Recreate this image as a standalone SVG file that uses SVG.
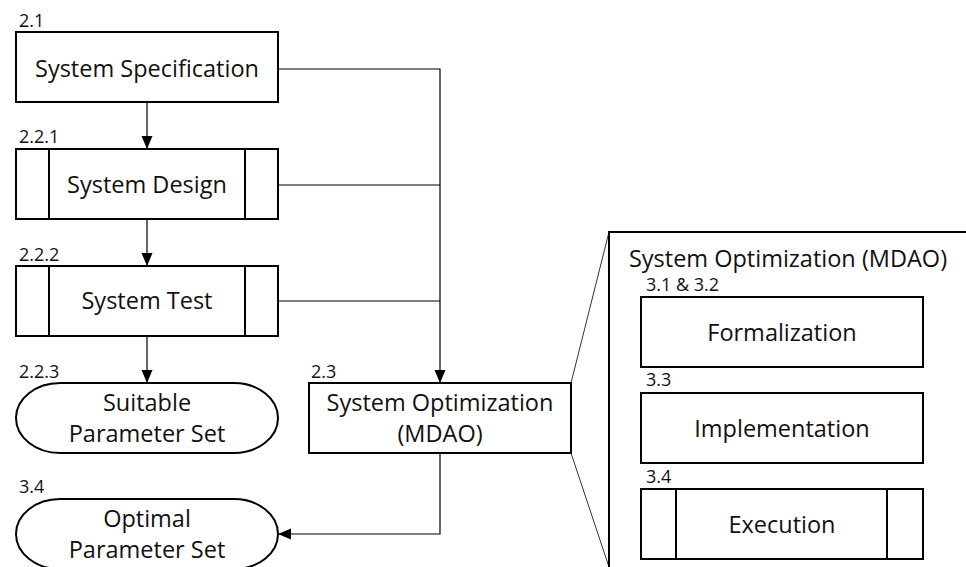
<svg xmlns="http://www.w3.org/2000/svg" width="966" height="567" viewBox="0 0 966 567">
  <style>
    .box { fill: #fff; stroke: #000; stroke-width: 2; }
    .sub { fill: none; stroke: #000; stroke-width: 2; }
    .txt { font-family: "Open Sans", "Liberation Sans", sans-serif; font-size: 23.5px; fill: #111; text-anchor: middle; dominant-baseline: central; }
    .num { font-family: "Open Sans", "Liberation Sans", sans-serif; font-size: 18px; fill: #111; }
    .con { fill: none; stroke: #000; stroke-width: 1.2; }
    .zoom { fill: none; stroke: #333; stroke-width: 1; }
  </style>
  <defs>
    <marker id="arrow" markerUnits="userSpaceOnUse" markerWidth="13" markerHeight="13" viewBox="0 0 13 13" refX="13" refY="6.5" orient="auto">
      <path d="M0,1 L13,6.5 L0,12 Z" fill="#000"/>
    </marker>
  </defs>
  <rect width="966" height="567" fill="#fff"/>

  <!-- connectors -->
  <g id="connectors">
    <line class="con" x1="147" y1="102" x2="147" y2="149" marker-end="url(#arrow)"/>
    <line class="con" x1="147" y1="219" x2="147" y2="266" marker-end="url(#arrow)"/>
    <line class="con" x1="147" y1="336" x2="147" y2="383" marker-end="url(#arrow)"/>
    <polyline class="con" points="278,69 440,69 440,383" marker-end="url(#arrow)"/>
    <line class="con" x1="278" y1="185" x2="440" y2="185"/>
    <line class="con" x1="278" y1="301" x2="440" y2="301"/>
    <polyline class="con" points="440,453 440,534 278,534" marker-end="url(#arrow)"/>
    <line class="con" x1="782" y1="367" x2="782" y2="393" marker-end="url(#arrow)"/>
    <line class="con" x1="782" y1="463" x2="782" y2="489" marker-end="url(#arrow)"/>
    <!-- detail lines from 2.3 to the expanded panel -->
    <line class="zoom" x1="571" y1="383" x2="609" y2="232"/>
    <line class="zoom" x1="571" y1="453" x2="609" y2="567"/>
  </g>

  <g id="n-spec">
    <text class="num" x="19" y="27">2.1</text>
    <rect class="box" x="16" y="32" width="262" height="70"/>
    <text class="txt" x="147" y="68">System Specification</text>
  </g>

  <g id="n-design">
    <text class="num" x="19" y="143">2.2.1</text>
    <rect class="box" x="16" y="149" width="262" height="70"/>
    <line class="sub" x1="49" y1="149" x2="49" y2="219"/>
    <line class="sub" x1="245" y1="149" x2="245" y2="219"/>
    <text class="txt" x="147" y="184">System Design</text>
  </g>

  <g id="n-test">
    <text class="num" x="19" y="261">2.2.2</text>
    <rect class="box" x="16" y="266" width="262" height="70"/>
    <line class="sub" x1="49" y1="266" x2="49" y2="336"/>
    <line class="sub" x1="245" y1="266" x2="245" y2="336"/>
    <text class="txt" x="147" y="300">System Test</text>
  </g>

  <g id="n-suitable">
    <text class="num" x="19" y="378">2.2.3</text>
    <path class="box" d="M60,383 H234 A44,35 0 0 1 234,453 H60 A44,35 0 0 1 60,383 Z"/>
    <text class="txt" x="147" y="402">Suitable</text>
    <text class="txt" x="147" y="433">Parameter Set</text>
  </g>

  <g id="n-mdao">
    <text class="num" x="311" y="378">2.3</text>
    <rect class="box" x="309" y="383" width="262" height="70"/>
    <text class="txt" x="440" y="402">System Optimization</text>
    <text class="txt" x="440" y="433">(MDAO)</text>
  </g>

  <g id="n-optimal">
    <text class="num" x="19" y="493">3.4</text>
    <path class="box" d="M60,499 H234 A44,35 0 0 1 234,569 H60 A44,35 0 0 1 60,499 Z"/>
    <text class="txt" x="147" y="518">Optimal</text>
    <text class="txt" x="147" y="549">Parameter Set</text>
  </g>

  <g id="panel">
    <rect class="box" x="609" y="232" width="370" height="350"/>
    <text class="txt" x="788" y="258">System Optimization (MDAO)</text>
  </g>

  <g id="n-formalization">
    <text class="num" x="646" y="291">3.1 &amp; 3.2</text>
    <rect class="box" x="641" y="297" width="282" height="70"/>
    <text class="txt" x="782" y="332">Formalization</text>
  </g>

  <g id="n-implementation">
    <text class="num" x="646" y="386">3.3</text>
    <rect class="box" x="641" y="393" width="282" height="70"/>
    <text class="txt" x="782" y="428">Implementation</text>
  </g>

  <g id="n-execution">
    <text class="num" x="646" y="483">3.4</text>
    <rect class="box" x="641" y="489" width="282" height="70"/>
    <line class="sub" x1="676" y1="489" x2="676" y2="559"/>
    <line class="sub" x1="887" y1="489" x2="887" y2="559"/>
    <text class="txt" x="782" y="524">Execution</text>
  </g>
</svg>
